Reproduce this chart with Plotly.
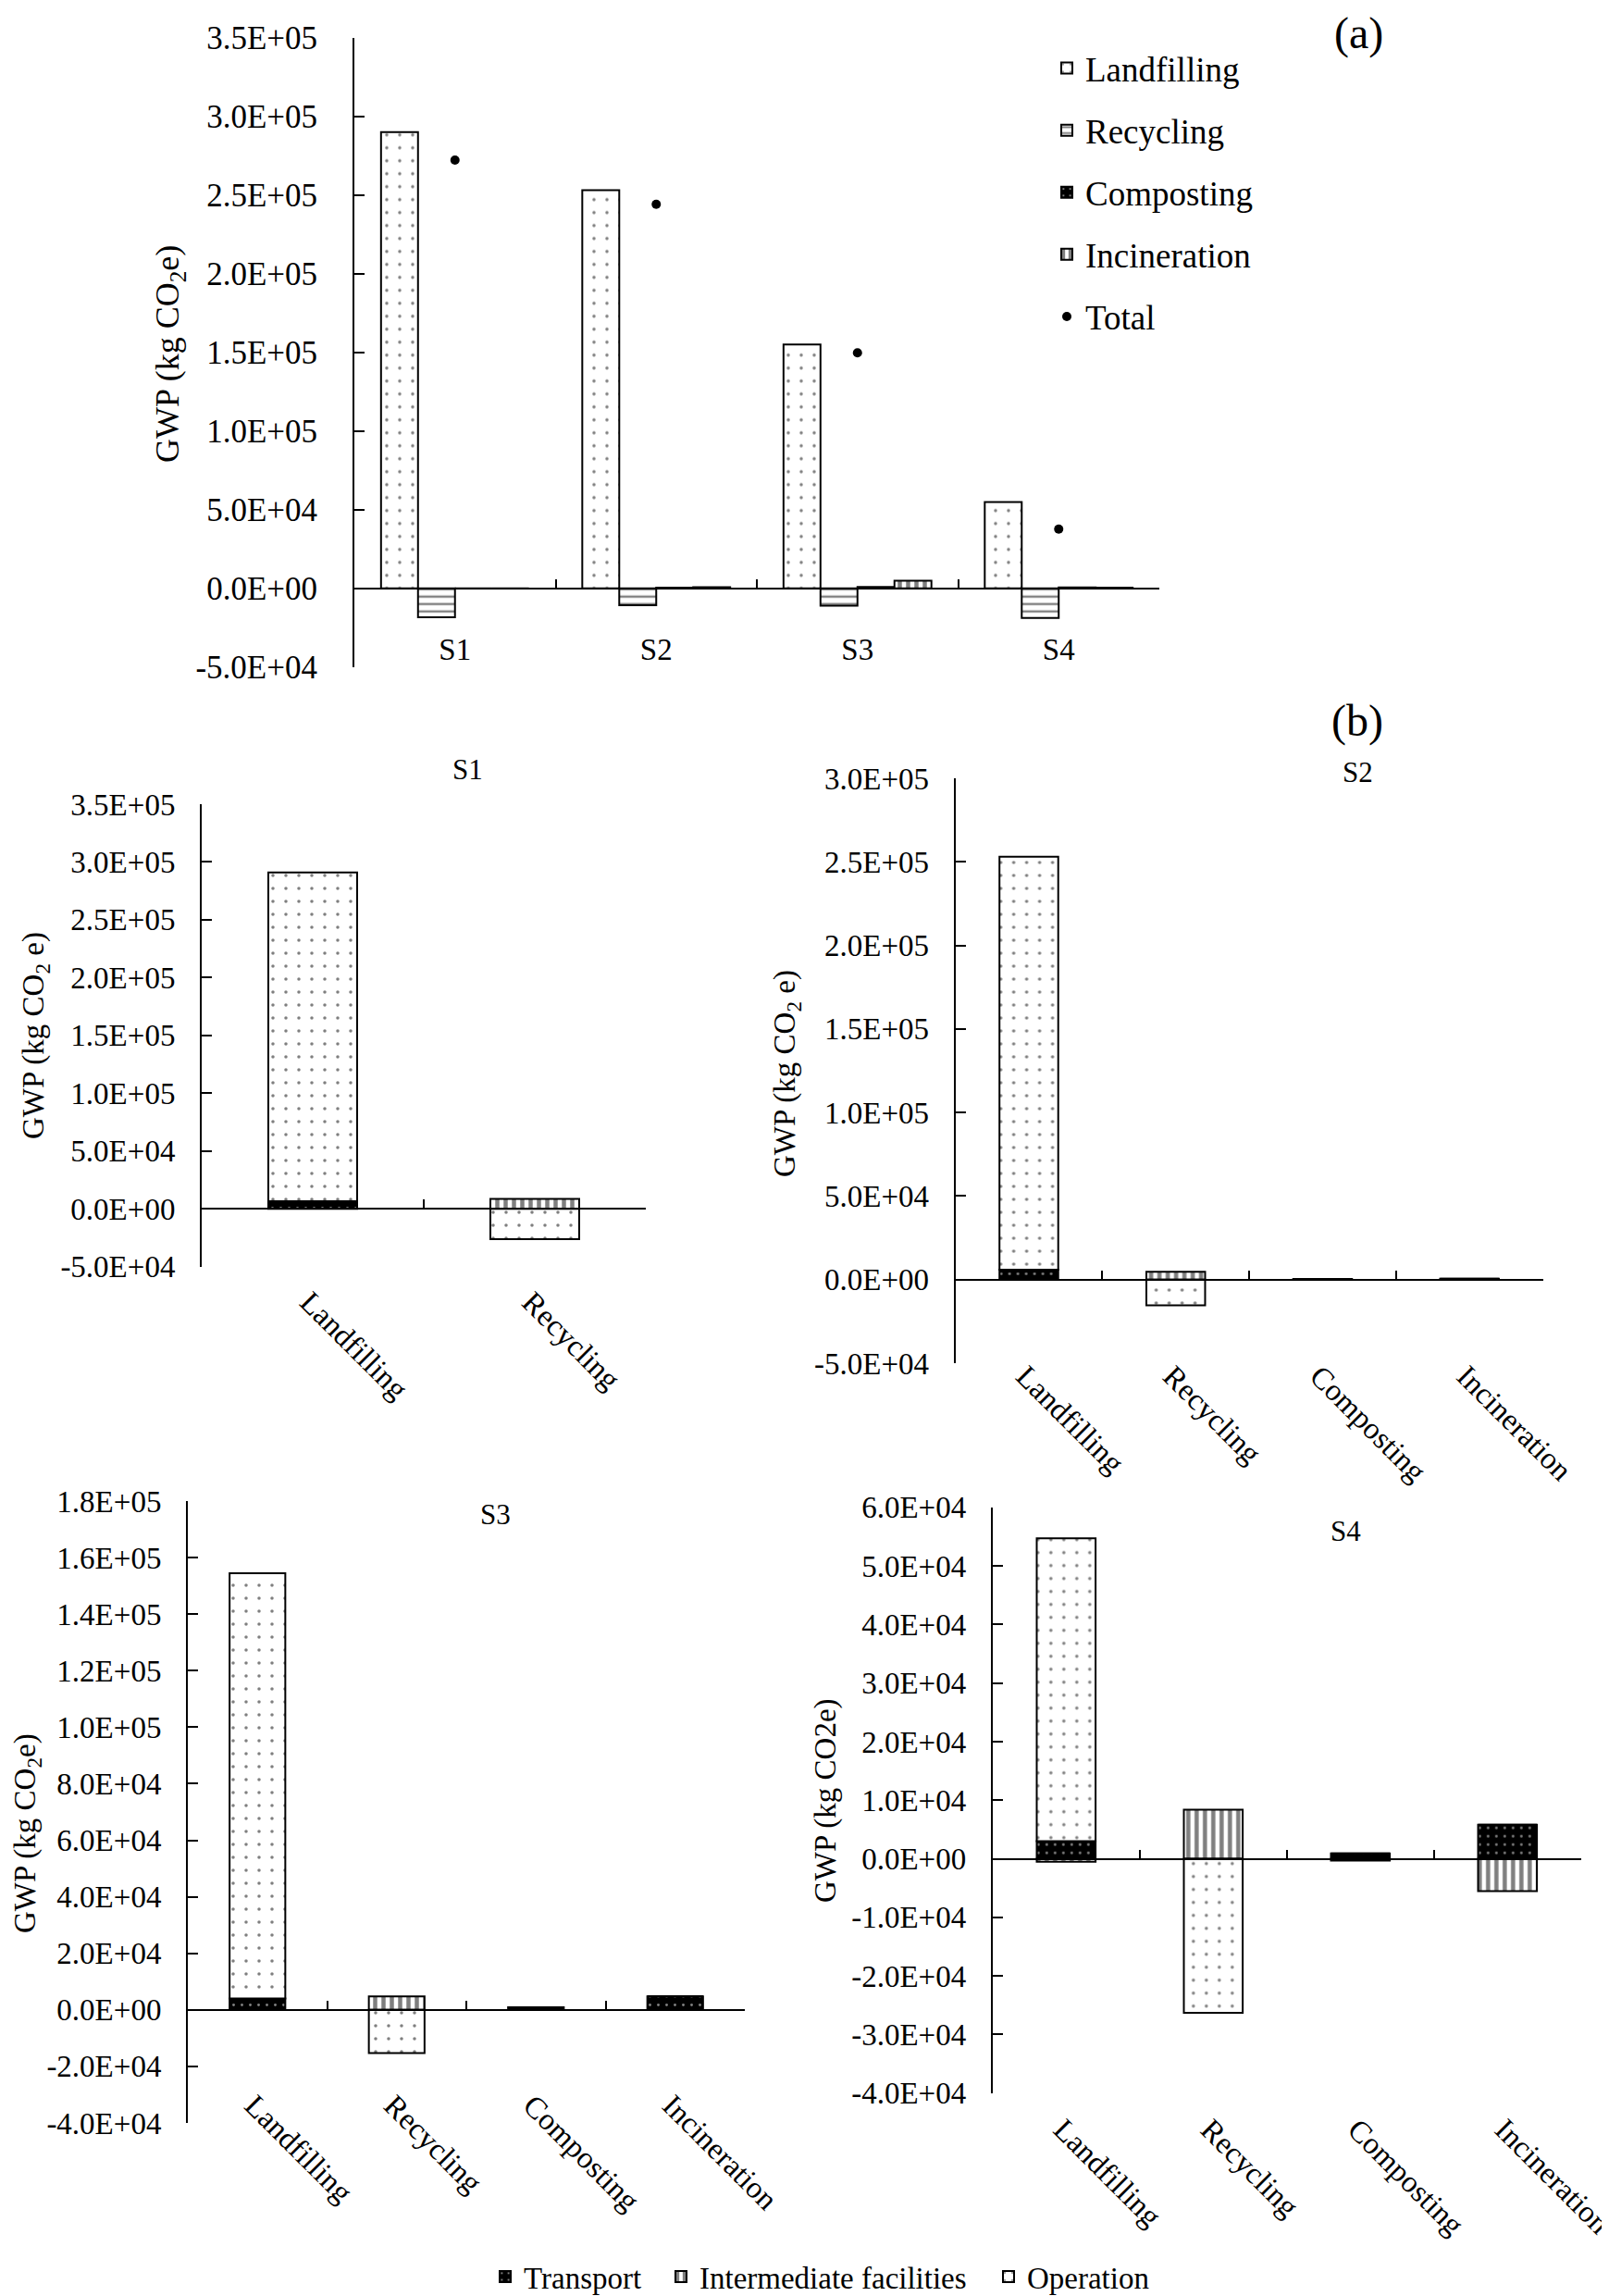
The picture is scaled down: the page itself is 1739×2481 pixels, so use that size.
import plotly.graph_objects as go

W, H = 1739, 2481
FONT = "Liberation Serif, Times New Roman, serif"

# (a) GWP of each treatment option, per scenario (kg CO2e)
scenarios = ["S1", "S2", "S3", "S4"]
landfilling = [290000, 253000, 155000, 54800]
recycling = [-18400, -10800, -11100, -18800]
composting = [0, 400, 800, 600]
incineration = [0, 700, 4800, 400]
total = [272200, 244100, 149700, 37600]

# (b) contribution of each stage, per scenario
options_s1 = ["Landfilling", "Recycling"]
options = ["Landfilling", "Recycling", "Composting", "Incineration"]

s1_transport = [6500, 0]
s1_intermediate = [0, 8500]
s1_operation = [284500, -26300]

s2_transport = [6000, 0, 400, 0]
s2_intermediate = [0, 4700, 0, 500]
s2_operation = [247000, -15400, 0, 0]

s3_transport = [4000, 0, 900, 4800]
s3_intermediate = [0, 4800, 0, 0]
s3_operation = [150500, -15300, 0, 0]

s4_transport = [3000, 0, 900, 5800]
s4_intermediate = [-500, 8400, -300, -5500]
s4_operation = [51700, -26300, 0, 0]


def fx(p):
    return p / W


def fy(p):
    return 1 - p / H


# fill patterns
dots = dict(shape=".", size=14, solidity=0.05, fgcolor="black", bgcolor="white")
dark_dots = dict(shape=".", size=9, solidity=0.08, fgcolor="white", bgcolor="black")
vlines = dict(shape="|", size=9, solidity=0.5, fgcolor="black", bgcolor="white")
waves = dict(shape="-", size=8, solidity=0.3, fgcolor="black", bgcolor="white")

outline = dict(color="black", width=2)

# panel boxes in page pixels (left, right, top, bottom) and axis settings
panels = [
    dict(box=(375, 1245, 32.7, 712.7), yr=(-50000, 350000), dt=50000, cats=scenarios,
         lab_y=671, angle=0, shift=0, tfs=35, cfs=33, standoff=31),
    dict(box=(210, 690, 861, 1360.7), yr=(-50000, 350000), dt=50000, cats=options_s1,
         lab_y=1372, angle=45, shift=-4, tfs=33, cfs=33, standoff=20),
    dict(box=(1024.6, 1659.6, 833, 1465), yr=(-50000, 300000), dt=50000, cats=options,
         lab_y=1452, angle=45, shift=-4, tfs=33, cfs=33, standoff=20),
    dict(box=(195, 797, 1614, 2286), yr=(-40000, 180000), dt=20000, cats=options,
         lab_y=2240, angle=45, shift=-4, tfs=33, cfs=33, standoff=20),
    dict(box=(1064.8, 1700.8, 1620.7, 2253.8), yr=(-40000, 60000), dt=10000, cats=options,
         lab_y=2266, angle=45, shift=-4, tfs=33, cfs=33, standoff=20),
]


def ids(i):
    xd = "x" if i == 0 else f"x{2 * i + 1}"
    xl = f"x{2 * i + 2}"
    yy = "y" if i == 0 else f"y{i + 1}"
    return xd, xl, yy


fig = go.Figure()

# ---- panel (a)
xd, xl, yy = ids(0)
for name, vals, pat in [("Landfilling", landfilling, dots),
                        ("Recycling", recycling, waves),
                        ("Composting", composting, dark_dots),
                        ("Incineration", incineration, vlines)]:
    fig.add_trace(go.Bar(x=scenarios, y=vals, name=name, offsetgroup=name,
                         legendgroup=name, legend="legend",
                         marker=dict(color="white", line=outline, pattern=pat),
                         xaxis=xd, yaxis=yy))
fig.add_trace(go.Scatter(x=scenarios, y=total, name="Total", mode="markers",
                         legendgroup="Total", legend="legend",
                         marker=dict(color="black", size=10),
                         xaxis=xd, yaxis=yy))

# ---- panel (b)
stage_data = [
    (options_s1, s1_transport, s1_intermediate, s1_operation),
    (options, s2_transport, s2_intermediate, s2_operation),
    (options, s3_transport, s3_intermediate, s3_operation),
    (options, s4_transport, s4_intermediate, s4_operation),
]
stages = [("Transport", dark_dots, "legend2"),
          ("Intermediate facilities", vlines, "legend3"),
          ("Operation", dots, "legend4")]
for k, (cats, tr, inter, op) in enumerate(stage_data):
    xd, xl, yy = ids(k + 1)
    for (name, pat, leg), vals in zip(stages, [tr, inter, op]):
        fig.add_trace(go.Bar(x=cats, y=vals, name=name, width=0.4,
                             legendgroup=name, legend=leg, showlegend=(k == 0),
                             marker=dict(color="white", line=outline, pattern=pat),
                             xaxis=xd, yaxis=yy))

# empty traces so the zero-line axes get drawn
for i in range(len(panels)):
    xd, xl, yy = ids(i)
    fig.add_trace(go.Scatter(x=[], y=[], xaxis=xl, yaxis=yy, showlegend=False,
                             hoverinfo="skip"))

layout = {}
for i, p in enumerate(panels):
    xd, xl, yy = ids(i)
    left, right, top, bottom = p["box"]
    y0, y1 = p["yr"]
    n = len(p["cats"])
    dom_y = [fy(bottom), fy(top)]
    zero_pos = dom_y[0] + (0 - y0) / (y1 - y0) * (dom_y[1] - dom_y[0])
    tickvals = [y0 + j * p["dt"] for j in range(int(round((y1 - y0) / p["dt"])) + 1)]
    ticktext = [f"{v:.1E}" for v in tickvals]

    xkey = "xaxis" if xd == "x" else "xaxis" + xd[1:]
    lkey = "xaxis" + xl[1:]
    ykey = "yaxis" if yy == "y" else "yaxis" + yy[1:]

    layout[xkey] = dict(domain=[fx(left), fx(right)], anchor="free", position=fy(p["lab_y"]),
                        type="category", categoryorder="array", categoryarray=p["cats"],
                        range=[-0.5, n - 0.5], showline=False, ticks="", showgrid=False,
                        zeroline=False, tickangle=p["angle"], automargin=False,
                        ticklabelshift=p["shift"],
                        tickfont=dict(size=p["cfs"], family=FONT, color="black"))
    layout[lkey] = dict(overlaying=xd, domain=[fx(left), fx(right)], anchor="free",
                        position=zero_pos, range=[-0.5, n - 0.5], showline=True,
                        linecolor="black", linewidth=2, ticks="inside", ticklen=9,
                        tickwidth=2, tickcolor="black", tickmode="array",
                        tickvals=[j - 0.5 for j in range(n + 1)], showticklabels=False,
                        showgrid=False, zeroline=False, automargin=False)
    layout[ykey] = dict(domain=dom_y, anchor=xd, range=[y0, y1], tickmode="array",
                        tickvals=tickvals, ticktext=ticktext, ticks="inside", ticklen=11,
                        tickwidth=2, tickcolor="black", showline=True, linecolor="black",
                        linewidth=2, showgrid=False, zeroline=False, automargin=False,
                        ticklabelstandoff=p["standoff"],
                        tickfont=dict(size=p["tfs"], family=FONT, color="black"))

fig.update_layout(**layout)


def note(text, x, y, size, angle=0):
    fig.add_annotation(text=text, x=fx(x), y=fy(y), xref="paper", yref="paper",
                       xanchor="center", yanchor="middle", showarrow=False,
                       textangle=angle, font=dict(size=size, family=FONT, color="black"))


note("(a)", 1460, 28, 48)
note("(b)", 1459, 771, 48)
note("S1", 497, 823, 31)
note("S2", 1459, 827, 31)
note("S3", 527, 1628, 31)
note("S4", 1446, 1646, 31)
note("GWP (kg CO<sub>2</sub>e)", 175, 375, 36, -90)
note("GWP (kg CO<sub>2</sub> e)", 30, 1111, 33, -90)
note("GWP (kg CO<sub>2</sub> e)", 843, 1152, 33, -90)
note("GWP (kg CO<sub>2</sub>e)", 21, 1973, 33, -90)
note("GWP (kg CO2e)", 884, 1938, 33, -90)


def bottom_legend(x):
    return dict(orientation="h", x=fx(x), y=fy(2424), xanchor="left", yanchor="top",
                bgcolor="rgba(0,0,0,0)", font=dict(size=33, family=FONT, color="black"))


fig.update_layout(
    width=W, height=H, margin=dict(l=0, r=0, t=0, b=0, autoexpand=False),
    paper_bgcolor="white", plot_bgcolor="white",
    font=dict(family=FONT, color="black"),
    barmode="relative", bargap=0.265, bargroupgap=0,
    legend=dict(x=fx(1125), y=fy(35), xanchor="left", yanchor="top",
                traceorder="grouped", tracegroupgap=16, bgcolor="rgba(0,0,0,0)",
                font=dict(size=37, family=FONT, color="black")),
    legend2=bottom_legend(518),
    legend3=bottom_legend(708),
    legend4=bottom_legend(1062),
)

fig.write_html("out.html")
